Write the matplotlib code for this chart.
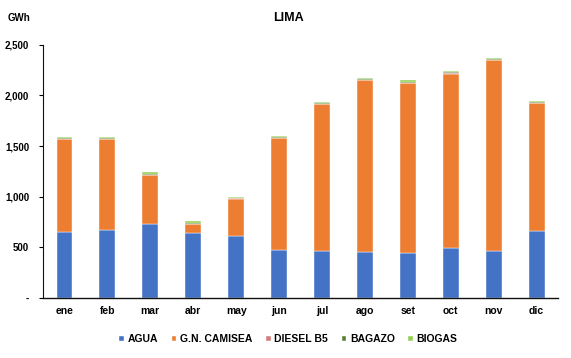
import matplotlib
matplotlib.use('Agg')

import matplotlib.pyplot as plt
from matplotlib.ticker import FuncFormatter
import numpy as np

plt.rcParams['font.family'] = ['Liberation Sans', 'DejaVu Sans']
plt.rcParams['font.weight'] = 'bold'

months = ["ene", "feb", "mar", "abr", "may", "jun", "jul", "ago", "set", "oct", "nov", "dic"]

# GWh per source
agua = [651, 670, 733, 644, 608, 476, 466, 450, 444, 496, 466, 664]
camisea = [917, 898, 483, 89, 374, 1102, 1450, 1700, 1679, 1716, 1884, 1261]
diesel = [2, 2, 2, 2, 2, 2, 2, 2, 3, 6, 2, 2]
bagazo = [5, 5, 6, 6, 4, 10, 5, 6, 9, 16, 5, 6]
biogas = [16, 14, 15, 15, 12, 12, 16, 15, 12, 10, 16, 15]

series = [("AGUA", agua, "#4472C4"),
          ("G.N. CAMISEA", camisea, "#ED7D31"),
          ("DIESEL B5", diesel, "#D47C7C"),
          ("BAGAZO", bagazo, "#548235"),
          ("BIOGAS", biogas, "#92D050")]

fig = plt.figure(figsize=(5.71, 3.58), dpi=100)
ax = fig.add_axes([0.0753, 0.1676, 0.902, 0.7075])

x = np.arange(len(months))
bottom = np.zeros(len(months))
for name, vals, col in series:
    ax.bar(x, vals, 0.37, bottom=bottom, color=col, label=name,
           edgecolor="white", linewidth=0.3)
    bottom += np.array(vals)

ax.set_xlim(-0.5, len(months) - 0.5)
ax.set_ylim(0, 2500)
ax.set_yticks(np.arange(0, 2501, 500))
ax.yaxis.set_major_formatter(FuncFormatter(lambda v, p: "-" if v == 0 else "{:,.0f}".format(v)))
ax.set_xticks(x)
ax.set_xticklabels(months)
ax.tick_params(axis="x", length=0, labelsize=7.5, pad=6)
ax.tick_params(axis="y", length=3, labelsize=7, pad=7)

for s in ["top", "right"]:
    ax.spines[s].set_visible(False)
ax.spines["left"].set_color("#111111")
ax.spines["bottom"].set_color("#111111")
ax.spines["left"].set_linewidth(0.8)
ax.spines["bottom"].set_linewidth(1.0)

fig.text(0.505, 0.95, "LIMA", ha="center", va="center", fontsize=9, fontweight="bold")
fig.text(0.014, 0.95, "GWh", ha="left", va="center", fontsize=7, fontweight="bold")

ax.legend(loc="center", bbox_to_anchor=(0.505, 0.052), bbox_transform=fig.transFigure,
          ncol=5, frameon=False, fontsize=7.5, handlelength=0.45, handleheight=0.45,
          handletextpad=0.35, columnspacing=1.3)

plt.savefig("out.png", dpi=100)
